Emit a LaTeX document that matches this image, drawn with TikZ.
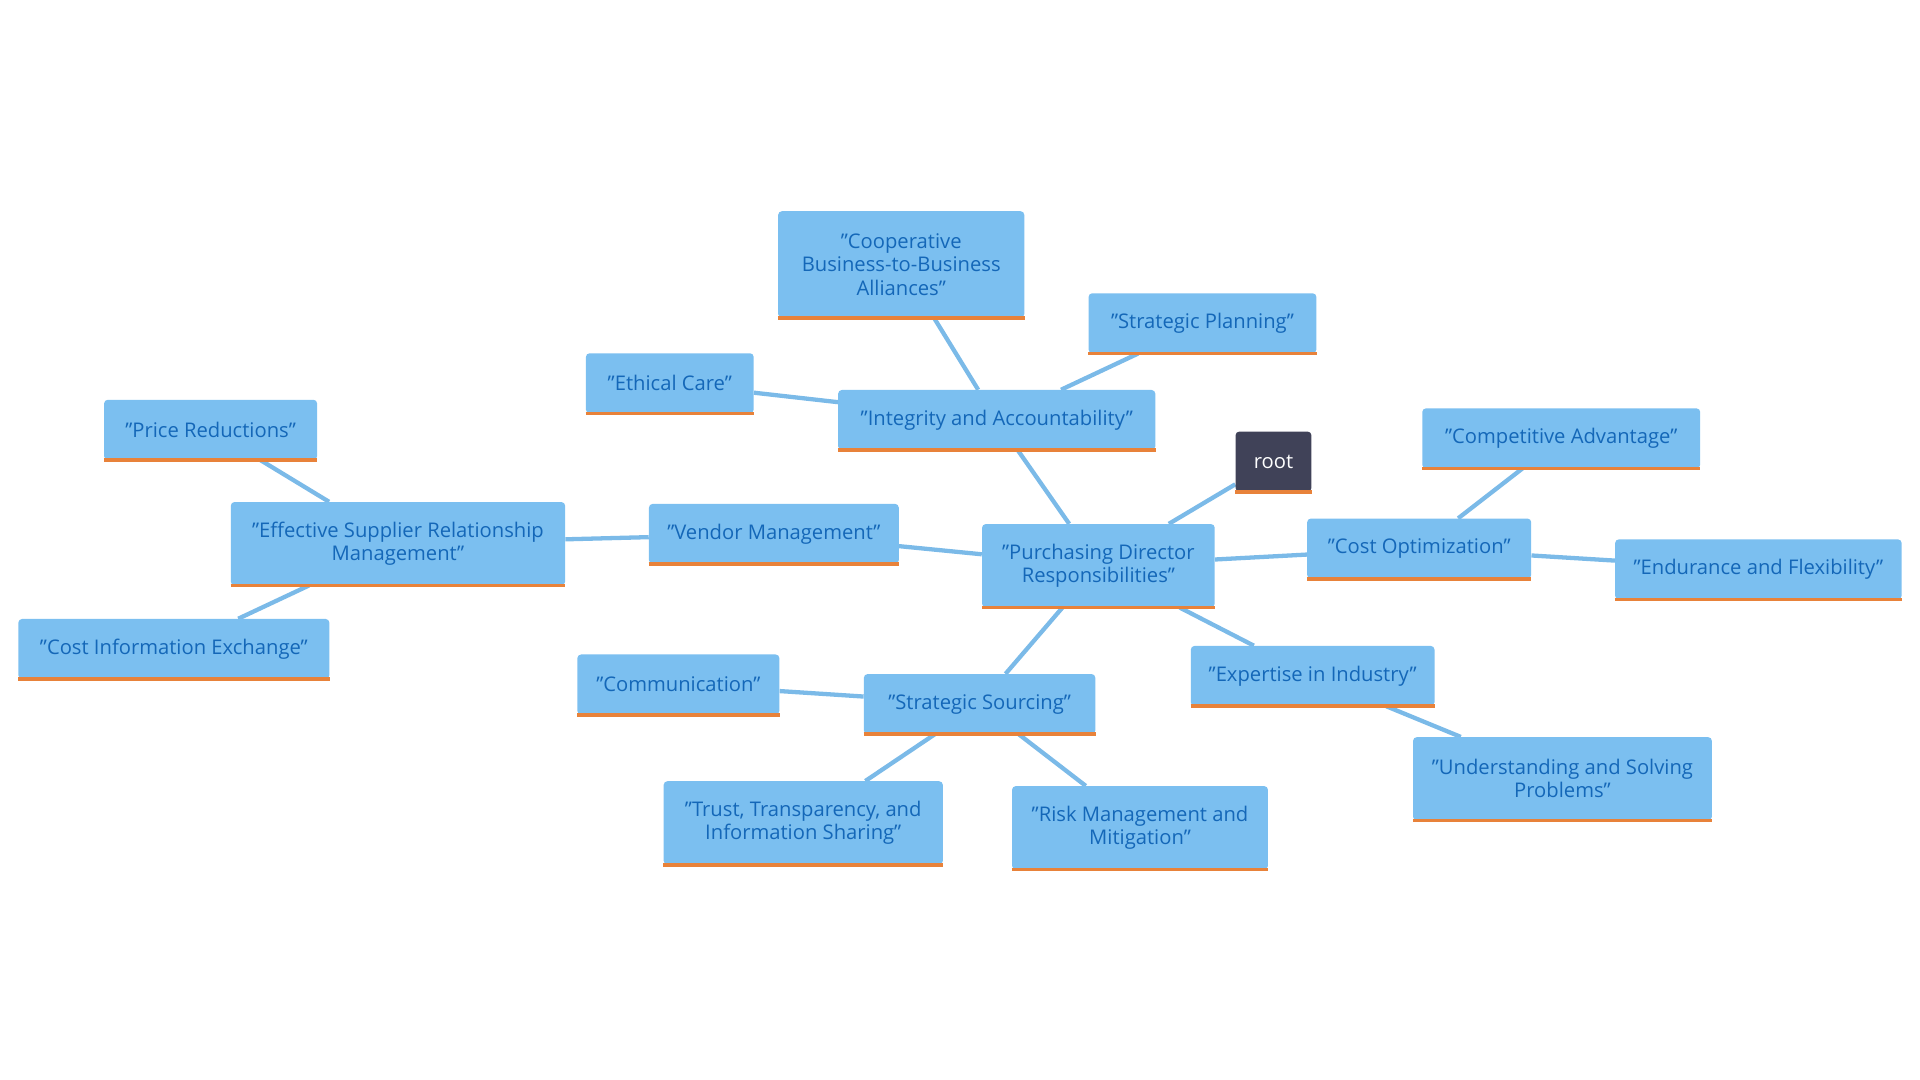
\documentclass[tikz,border=0pt]{standalone}
\usepackage{fontspec}
\setmainfont{Open Sans}
\usetikzlibrary{backgrounds}
\definecolor{boxblue}{HTML}{7BBFF0}
\definecolor{textblue}{HTML}{1467B8}
\definecolor{edgeblue}{HTML}{7BBAE8}
\definecolor{barorange}{HTML}{E8823A}
\definecolor{rootgray}{HTML}{404258}
\tikzset{
  topic/.style={fill=boxblue, text=textblue, rounded corners=3pt, align=center,
    font=\fontsize{16.5}{19}\selectfont, inner sep=0pt},
  rootbox/.style={fill=rootgray, text=white, rounded corners=3pt,
    font=\fontsize{16.5}{19}\selectfont, inner sep=0pt},
  link/.style={edgeblue, line width=3.5pt},
  bar/.style={barorange, line width=3pt}
}
\begin{document}
\begin{tikzpicture}[x=1pt, y=-1pt]
  \useasboundingbox (0,0) rectangle (1568,882);
  % Wurzel
  \node[rootbox, minimum width=62, minimum height=49] (root) at (1040,377) {root};
  \node[topic, minimum width=190, minimum height=68] (pdr) at (897,462) {"Purchasing Director\\Responsibilities"};
  % Integritaet
  \node[topic, minimum width=259, minimum height=49] (integ) at (814,343) {"Integrity and Accountability"};
  \node[topic, minimum width=201, minimum height=87] (coop) at (736,216) {"Cooperative\\Business-to-Business\\Alliances"};
  \node[topic, minimum width=186, minimum height=49] (plan) at (982,264) {"Strategic Planning"};
  \node[topic, minimum width=137, minimum height=49] (ethic) at (547,313) {"Ethical Care"};
  % Lieferanten
  \node[topic, minimum width=204, minimum height=49] (vendor) at (632,436) {"Vendor Management"};
  \node[topic, minimum width=273, minimum height=68] (srm) at (325,444) {"Effective Supplier Relationship\\Management"};
  \node[topic, minimum width=174, minimum height=49] (price) at (172,351) {"Price Reductions"};
  \node[topic, minimum width=254, minimum height=49] (costinfo) at (142,530) {"Cost Information Exchange"};
  % Beschaffung
  \node[topic, minimum width=189, minimum height=49] (sourcing) at (800,575) {"Strategic Sourcing"};
  \node[topic, minimum width=165, minimum height=49] (comm) at (554,559) {"Communication"};
  \node[topic, minimum width=228, minimum height=68] (trust) at (656,672) {"Trust, Transparency, and\\Information Sharing"};
  \node[topic, minimum width=209, minimum height=68] (risk) at (931,676) {"Risk Management and\\Mitigation"};
  % Fachwissen
  \node[topic, minimum width=199, minimum height=49] (expert) at (1072,552) {"Expertise in Industry"};
  \node[topic, minimum width=244, minimum height=68] (underst) at (1276,636) {"Understanding and Solving\\Problems"};
  % Kosten
  \node[topic, minimum width=183, minimum height=49] (costopt) at (1159,448) {"Cost Optimization"};
  \node[topic, minimum width=227, minimum height=49] (compet) at (1275,358) {"Competitive Advantage"};
  \node[topic, minimum width=234, minimum height=49] (endur) at (1436,465) {"Endurance and Flexibility"};

  % Unterkanten
  \foreach \n in {root,pdr,integ,coop,plan,ethic,vendor,srm,price,costinfo,sourcing,comm,trust,risk,expert,underst,costopt,compet,endur}
    \draw[bar] (\n.south west) -- (\n.south east);

  % Verbindungen
  \begin{scope}[on background layer]
    \draw[link] (root) -- (pdr);
    \draw[link] (pdr) -- (integ);
    \draw[link] (integ) -- (coop);
    \draw[link] (integ) -- (plan);
    \draw[link] (integ) -- (ethic);
    \draw[link] (pdr) -- (vendor);
    \draw[link] (vendor) -- (srm);
    \draw[link] (srm) -- (price);
    \draw[link] (srm) -- (costinfo);
    \draw[link] (pdr) -- (sourcing);
    \draw[link] (sourcing) -- (comm);
    \draw[link] (sourcing) -- (trust);
    \draw[link] (sourcing) -- (risk);
    \draw[link] (pdr) -- (expert);
    \draw[link] (expert) -- (underst);
    \draw[link] (pdr) -- (costopt);
    \draw[link] (costopt) -- (compet);
    \draw[link] (costopt) -- (endur);
  \end{scope}
\end{tikzpicture}
\end{document}
